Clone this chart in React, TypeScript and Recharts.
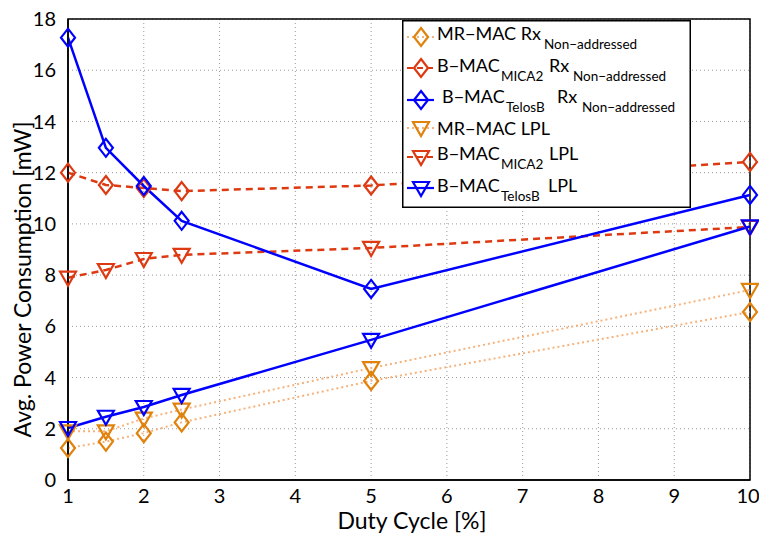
import React from 'react';
import {
  LineChart,
  Line,
  XAxis,
  YAxis,
  CartesianGrid,
  ReferenceArea,
} from 'recharts';

// ---------------------------------------------------------------------------
// Data
// ---------------------------------------------------------------------------
const dutyCycle = [1, 1.5, 2, 2.5, 5, 10];
const mrmacRx = [1.25, 1.5, 1.83, 2.25, 3.87, 6.56];
const bmacMica2Rx = [12.0, 11.52, 11.4, 11.28, 11.5, 12.42];
const bmacTelosbRx = [17.27, 12.97, 11.48, 10.12, 7.46, 11.13];
const mrmacLpl = [1.9, 1.9, 2.4, 2.75, 4.37, 7.42];
const bmacMica2Lpl = [7.9, 8.2, 8.63, 8.79, 9.06, 9.88];
const bmacTelosbLpl = [2.03, 2.47, 2.85, 3.32, 5.47, 9.9];

const xTicks = [1, 2, 3, 4, 5, 6, 7, 8, 9, 10];
const yTicks = [0, 2, 4, 6, 8, 10, 12, 14, 16, 18];

const data = dutyCycle.map((d, i) => ({
  duty: d,
  mrmacRx: mrmacRx[i],
  bmacMica2Rx: bmacMica2Rx[i],
  bmacTelosbRx: bmacTelosbRx[i],
  mrmacLpl: mrmacLpl[i],
  bmacMica2Lpl: bmacMica2Lpl[i],
  bmacTelosbLpl: bmacTelosbLpl[i],
}));

// ---------------------------------------------------------------------------
// Style constants
// ---------------------------------------------------------------------------
const FONT = 'Lato, "Open Sans", sans-serif';
const BLUE = '#0000ff';
const RED = '#dd3a12';
const ORANGE = '#e0820c';
const ORANGE_LINE = '#f6b27a';

// ---------------------------------------------------------------------------
// Markers
// ---------------------------------------------------------------------------
function diamondPath(cx: number, cy: number) {
  return `M${cx},${cy - 9}L${cx + 7},${cy}L${cx},${cy + 9}L${cx - 7},${cy}Z`;
}
function trianglePath(cx: number, cy: number) {
  return `M${cx - 8},${cy - 6}L${cx + 8},${cy - 6}L${cx},${cy + 8}Z`;
}

const makeDot = (shape: 'diamond' | 'triangle', color: string) => (props: any) => {
  const { cx, cy, index } = props;
  if (cx == null || cy == null) return <g key={index} />;
  const d = shape === 'diamond' ? diamondPath(cx, cy) : trianglePath(cx, cy);
  return <path key={index} d={d} fill="none" stroke={color} strokeWidth={2.2} />;
};

// x tick: the last label is nudged left so it stays inside the page
function XTick({ x, y, payload }: any) {
  const last = payload.value === xTicks[xTicks.length - 1];
  return (
    <text
      x={last ? x - 2 : x}
      y={y}
      dy="0.71em"
      textAnchor="middle"
      fontSize={20}
      fill="#000"
      fontFamily={FONT}
    >
      {payload.value}
    </text>
  );
}

// ---------------------------------------------------------------------------
// Legend (overlay)
// ---------------------------------------------------------------------------
type Piece = { t: string; x: number; sub?: boolean };
const LEGEND_ROWS: {
  shape: 'diamond' | 'triangle';
  color: string;
  line: string;
  dash?: string;
  cy: number;
  base: number;
  pieces: Piece[];
}[] = [
  { shape: 'diamond', color: ORANGE, line: ORANGE_LINE, dash: '2 3', cy: 17, base: 20, pieces: [{ t: 'MR−MAC Rx', x: 35 }, { t: 'Non−addressed', x: 142, sub: true }] },
  { shape: 'diamond', color: RED, line: RED, dash: '6 4', cy: 48, base: 52, pieces: [{ t: 'B−MAC', x: 35 }, { t: 'MICA2', x: 99, sub: true }, { t: 'Rx', x: 147 }, { t: 'Non−addressed', x: 171, sub: true }] },
  { shape: 'diamond', color: BLUE, line: BLUE, cy: 80, base: 83, pieces: [{ t: 'B−MAC', x: 40 }, { t: 'TelosB', x: 104, sub: true }, { t: 'Rx', x: 155 }, { t: 'Non−addressed', x: 180, sub: true }] },
  { shape: 'triangle', color: ORANGE, line: ORANGE_LINE, dash: '2 3', cy: 108, base: 115, pieces: [{ t: 'MR−MAC LPL', x: 35 }] },
  { shape: 'triangle', color: RED, line: RED, dash: '6 4', cy: 137, base: 140, pieces: [{ t: 'B−MAC', x: 35 }, { t: 'MICA2', x: 99, sub: true }, { t: 'LPL', x: 147 }] },
  { shape: 'triangle', color: BLUE, line: BLUE, cy: 168, base: 172, pieces: [{ t: 'B−MAC', x: 35 }, { t: 'TelosB', x: 99, sub: true }, { t: 'LPL', x: 146 }] },
];

function LegendBox() {
  return (
    <svg
      width={289}
      height={188}
      style={{ position: 'absolute', left: 402, top: 20 }}
    >
      <rect x={0.75} y={0.75} width={287.5} height={186.5} fill="#fff" stroke="#000" strokeWidth={1.5} />
      {LEGEND_ROWS.map((r, i) => (
        <g key={i}>
          <line x1={5} x2={32} y1={r.cy} y2={r.cy} stroke={r.line} strokeWidth={2.2} strokeDasharray={r.dash} />
          <path
            d={r.shape === 'diamond' ? diamondPath(19, r.cy) : trianglePath(19, r.cy)}
            fill="none"
            stroke={r.color}
            strokeWidth={2.2}
          />
          {r.pieces.map((p, j) => (
            <text
              key={j}
              x={p.x}
              y={p.sub ? r.base + 9 : r.base}
              fontSize={p.sub ? 13.5 : 18}
              fontFamily={FONT}
              fill="#000"
            >
              {p.t}
            </text>
          ))}
        </g>
      ))}
    </svg>
  );
}

// ---------------------------------------------------------------------------
// Component
// ---------------------------------------------------------------------------
export default function App() {
  return (
    <div style={{ position: 'absolute', left: 0, top: 0, width: 759, height: 534, background: '#fff' }}>
      <LineChart
        width={759}
        height={534}
        data={data}
        margin={{ top: 19, right: 9, bottom: 0, left: 0 }}
        style={{ fontFamily: FONT }}
      >
        <CartesianGrid stroke="#999" strokeDasharray="1 3" strokeWidth={1} />
        <XAxis
          dataKey="duty"
          type="number"
          domain={[1, 10]}
          ticks={xTicks}
          height={54}
          tickLine={false}
          tickMargin={3}
          axisLine={{ stroke: '#000', strokeWidth: 1.5 }}
          tick={<XTick />}
          label={{
            content: ({ viewBox }: any) => (
              <text
                x={viewBox.x + viewBox.width / 2 + 3}
                y={529}
                textAnchor="middle"
                fontSize={23}
                fill="#000"
                fontFamily={FONT}
              >
                Duty Cycle [%]
              </text>
            ),
          }}
        />
        <YAxis
          type="number"
          domain={[0, 18]}
          ticks={yTicks}
          width={68}
          tickLine={false}
          tickMargin={6}
          interval={0}
          axisLine={{ stroke: '#000', strokeWidth: 1.5 }}
          tick={{ fontSize: 20, fill: '#000' }}
          label={{
            content: ({ viewBox }: any) => {
              const cx = 22;
              const cy = viewBox.y + viewBox.height / 2 + 30;
              return (
                <text
                  x={cx}
                  y={cy}
                  transform={`rotate(-90 ${cx} ${cy})`}
                  textAnchor="middle"
                  dominantBaseline="central"
                  fontSize={23}
                  fill="#000"
                  fontFamily={FONT}
                >
                  Avg. Power Consumption [mW]
                </text>
              );
            },
          }}
        />
        <ReferenceArea x1={1} x2={10} y1={0} y2={18} fill="none" stroke="#000" strokeWidth={1.5} ifOverflow="visible" />

        <Line dataKey="mrmacRx" stroke={ORANGE_LINE} strokeWidth={2} strokeDasharray="2 3" dot={makeDot('diamond', ORANGE)} isAnimationActive={false} />
        <Line dataKey="mrmacLpl" stroke={ORANGE_LINE} strokeWidth={2} strokeDasharray="2 3" dot={makeDot('triangle', ORANGE)} isAnimationActive={false} />
        <Line dataKey="bmacMica2Rx" stroke={RED} strokeWidth={2.5} strokeDasharray="7 5" dot={makeDot('diamond', RED)} isAnimationActive={false} />
        <Line dataKey="bmacMica2Lpl" stroke={RED} strokeWidth={2.5} strokeDasharray="7 5" dot={makeDot('triangle', RED)} isAnimationActive={false} />
        <Line dataKey="bmacTelosbRx" stroke={BLUE} strokeWidth={2.5} dot={makeDot('diamond', BLUE)} isAnimationActive={false} />
        <Line dataKey="bmacTelosbLpl" stroke={BLUE} strokeWidth={2.5} dot={makeDot('triangle', BLUE)} isAnimationActive={false} />
      </LineChart>
      <LegendBox />
    </div>
  );
}
